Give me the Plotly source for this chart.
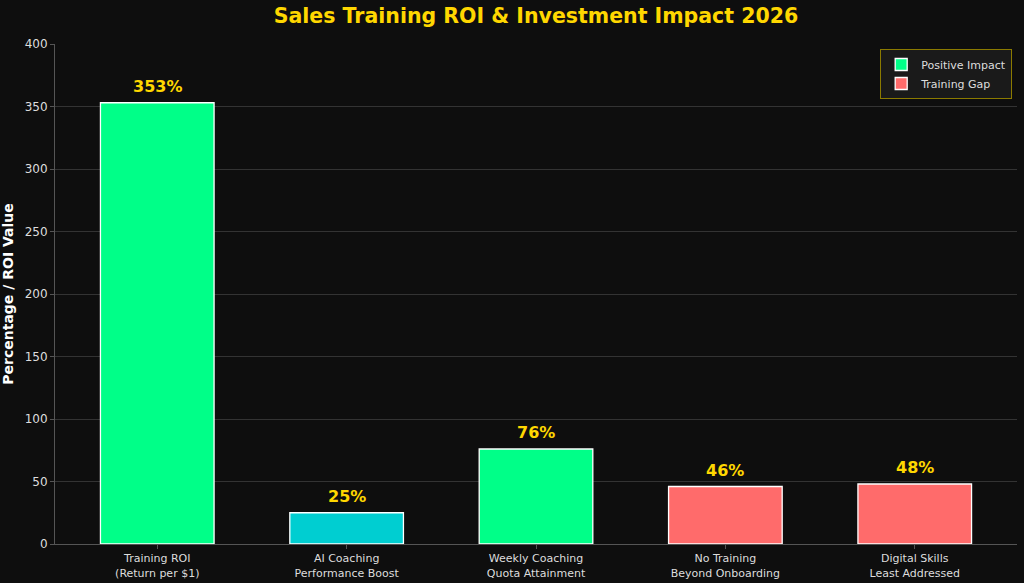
import plotly.graph_objects as go

categories = ["Training ROI<br>(Return per $1)", "AI Coaching<br>Performance Boost",
              "Weekly Coaching<br>Quota Attainment", "No Training<br>Beyond Onboarding",
              "Digital Skills<br>Least Addressed"]
values = [353, 25, 76, 46, 48]
groups = ["Positive Impact", "AI", "Positive Impact", "Training Gap", "Training Gap"]
labels = ["353%", "25%", "76%", "46%", "48%"]
y_ticks = [0, 50, 100, 150, 200, 250, 300, 350, 400]

colors = {"Positive Impact": "#00FF88", "AI": "#00CED1", "Training Gap": "#FF6B6B"}

fig = go.Figure()
shown = set()
for cat, val, grp in zip(categories, values, groups):
    name = grp if grp != "AI" else "AI Coaching"
    show = grp != "AI" and grp not in shown
    shown.add(grp)
    fig.add_trace(go.Bar(
        x=[cat], y=[val], name=name, legendgroup=grp, showlegend=show,
        marker=dict(color=colors[grp], line=dict(color="white", width=1.3)),
        width=0.6,
    ))

for cat, val, lab in zip(categories, values, labels):
    fig.add_annotation(x=cat, y=val, text="<b>" + lab + "</b>", showarrow=False,
                       yanchor="bottom", yshift=5,
                       font=dict(family="DejaVu Sans", size=16, color="#FFD700"))

fig.update_layout(
    width=1024, height=583,
    paper_bgcolor="#0E0E0E", plot_bgcolor="#0E0E0E",
    margin=dict(l=55, r=7, t=44, b=39),
    title=dict(text="<b>Sales Training ROI & Investment Impact 2026</b>", x=0.5, xanchor="center",
               xref="paper", y=0.972, yanchor="middle",
               font=dict(family="DejaVu Sans", size=20.5, color="#FFD700")),
    font=dict(family="DejaVu Sans", color="#DDDDDD"),
    barmode="overlay",
    showlegend=True,
    legend=dict(x=0.995, y=0.99, xanchor="right", yanchor="top",
                bgcolor="#1A1A1A", bordercolor="#8B7A00", borderwidth=1,
                font=dict(size=11, color="#DDDDDD"), tracegroupgap=0,
                itemwidth=30),
    bargap=0.4,
)
fig.update_xaxes(type="category", categoryorder="array", categoryarray=categories,
                 range=[-0.54, 4.54], automargin=False,
                 showgrid=False, showline=True, linecolor="#555555", linewidth=1,
                 ticks="outside", ticklen=4, tickcolor="#555555",
                 tickfont=dict(size=11, color="#DDDDDD"))
fig.update_yaxes(range=[0, 400], tickvals=y_ticks, automargin=False,
                 showgrid=True, gridcolor="#333333", gridwidth=1,
                 showline=True, linecolor="#555555", linewidth=1,
                 ticks="outside", ticklen=4, tickcolor="#555555",
                 tickfont=dict(size=12, color="#DDDDDD"),
                 zeroline=False,
                 title=dict(text="<b>Percentage / ROI Value</b>", standoff=9,
                            font=dict(size=14, color="white")))

fig.write_html("out.html")
